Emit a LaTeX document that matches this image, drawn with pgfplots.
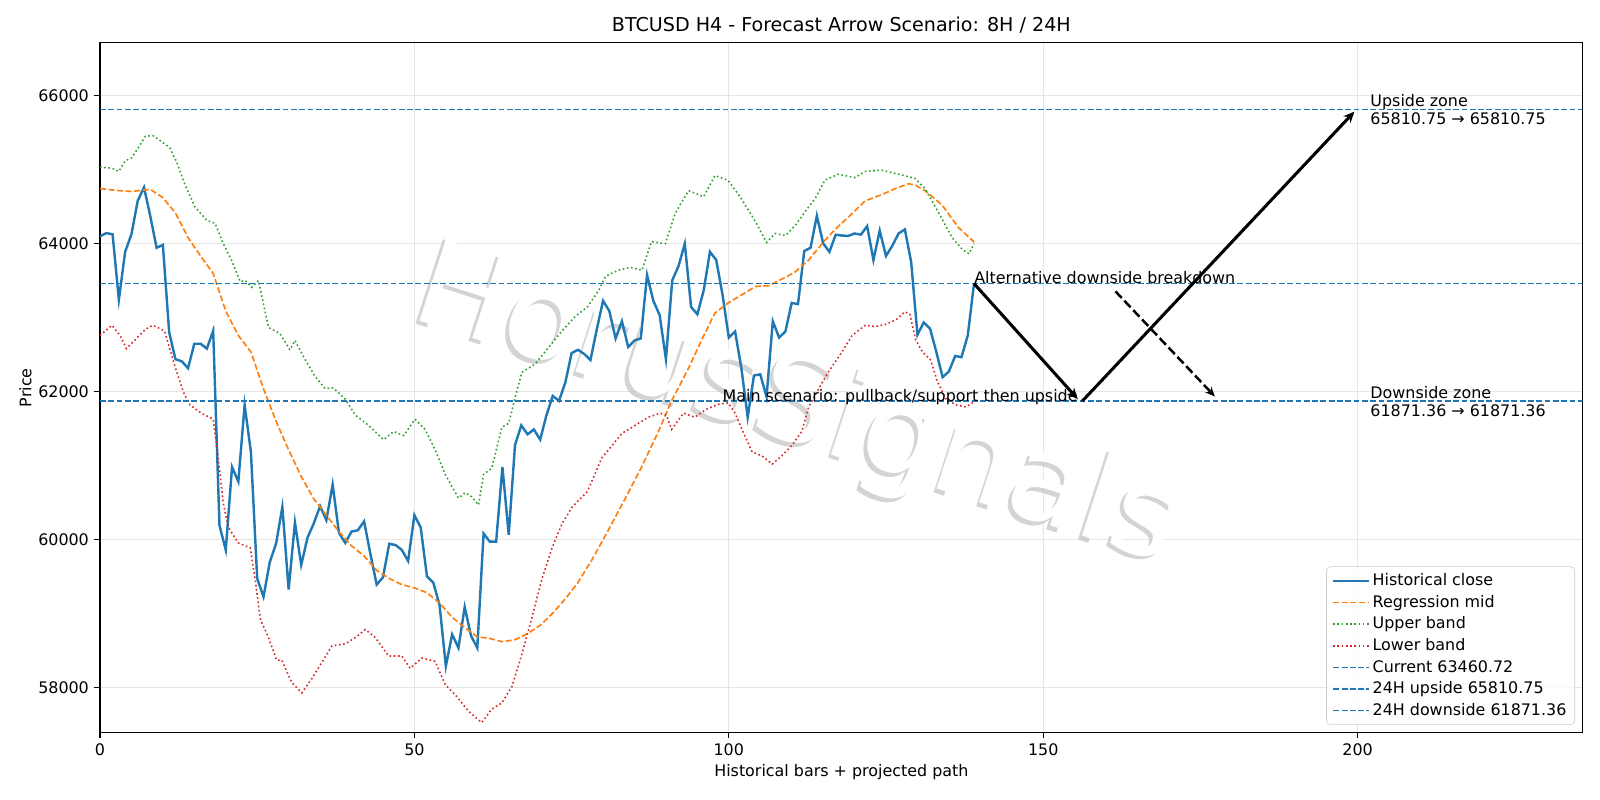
\documentclass[border=0pt]{standalone}
\usepackage{fontspec}
\setmainfont{DejaVu Sans}
\usepackage{pgfplots}
\pgfplotsset{compat=1.18}
\usetikzlibrary{arrows.meta}
\definecolor{tabblue}{HTML}{1F77B4}
\definecolor{taborange}{HTML}{FF7F0E}
\definecolor{tabgreen}{HTML}{2CA02C}
\definecolor{tabred}{HTML}{D62728}
\definecolor{gridgray}{RGB}{230,230,230}
\definecolor{legedge}{RGB}{204,204,204}
\newcommand{\fs}{\fontsize{11.5}{13.8}\selectfont}
\begin{document}
\fs
\begin{tikzpicture}
\path[use as bounding box] (0,0) rectangle (16in,8in);
\begin{axis}[
  at={(1in,0.673in)}, anchor=south west,
  scale only axis, width=14.827in, height=6.9in,
  xmin=0, xmax=235.8, ymin=57392, ymax=66716,
  xtick={0,50,100,150,200}, ytick={58000,60000,62000,64000,66000},
  scaled y ticks=false,
  grid=major, grid style={color=gridgray, line width=0.9pt},
  tick align=outside, xtick pos=bottom, ytick pos=left,
  major tick length=4pt, tick style={black, line width=0.92pt},
  axis line style={line width=0.92pt},
  /pgf/number format/.cd, 1000 sep={}, assume math mode=true, /pgfplots/.cd,
  tick label style={font=\fs},
  title={BTCUSD H4 - Forecast Arrow Scenario: 8H / 24H},
  title style={at={(axis description cs:0.5,1.0249)}, anchor=center, yshift=-6pt, font=\fontsize{13.8}{16}\selectfont},
  xlabel={Historical bars + projected path},
  xlabel style={at={(axis description cs:0.5,-0.0565)}, anchor=center, font=\fs},
  ylabel={Price},
  ylabel style={at={(axis description cs:-0.0502,0.5)}, anchor=center, font=\fs},
  legend style={at={(axis description cs:0.9948,0.0112)}, anchor=south east,
    draw=legedge, rounded corners=3pt, fill=white, fill opacity=0.8, text opacity=1,
    font=\fs, inner xsep=4pt, inner ysep=3pt, row sep=1.2pt},
  legend cell align=left,
  legend image code/.code={\draw[mark repeat=2,mark phase=2,#1] plot coordinates {(0cm,0cm) (0.45cm,0cm) (0.9cm,0cm)};},
]
% watermark
\node[xshift=-2.6pt, yshift=-2.6pt, rotate=-18, text=black!24, opacity=0.7, font=\fontsize{88}{100}\selectfont] at (axis cs:110.7,61780) {HorusSignals};
\node[rotate=-18, text=white, font=\fontsize{88}{100}\selectfont] at (axis cs:110.7,61780) {HorusSignals};

\addplot[tabblue, line width=1.75pt] coordinates {
(0,64099)(1,64143)(2,64127)(3,63244)(4,63890)(5,64127)(6,64580)(7,64761)(8,64370)(9,63945)
(10,63983)(11,62803)(12,62439)(13,62411)(14,62317)(15,62648)(16,62648)(17,62582)(18,62825)(19,60193)
(20,59862)(21,60982)(22,60784)(23,61821)(24,61186)(25,59476)(26,59228)(27,59697)(28,59945)(29,60442)
(30,59327)(31,60232)(32,59658)(33,60028)(34,60221)(35,60453)(36,60265)(37,60745)(38,60095)(39,59956)
(40,60110)(41,60127)(42,60248)(43,59807)(44,59393)(45,59492)(46,59945)(47,59928)(48,59862)(49,59713)
(50,60331)(51,60166)(52,59504)(53,59421)(54,59117)(55,58290)(56,58720)(57,58538)(58,59090)(59,58703)
(60,58538)(61,60083)(62,59973)(63,59973)(64,60982)(65,60066)(66,61280)(67,61545)(68,61424)(69,61490)
(70,61352)(71,61683)(72,61942)(73,61876)(74,62124)(75,62521)(76,62566)(77,62510)(78,62428)(79,62841)
(80,63228)(81,63090)(82,62720)(83,62952)(84,62604)(85,62692)(86,62720)(87,63575)(88,63228)(89,63035)
(90,62439)(91,63503)(92,63697)(93,64000)(94,63145)(95,63046)(96,63366)(97,63890)(98,63779)(99,63310)
(100,62731)(101,62814)(102,62317)(103,61655)(104,62218)(105,62235)(106,61931)(107,62952)(108,62731)(109,62814)
(110,63200)(111,63183)(112,63901)(113,63945)(114,64378)(115,64005)(116,63890)(117,64121)(118,64110)(119,64105)
(120,64138)(121,64121)(122,64237)(123,63779)(124,64176)(125,63834)(126,63972)(127,64138)(128,64193)(129,63752)
(130,62770)(131,62935)(132,62853)(133,62538)(134,62196)(135,62273)(136,62483)(137,62466)(138,62759)(139,63460.72)
};
\addlegendentry{Historical close}

\addplot[taborange, line width=1.2pt, dash pattern=on 4.3pt off 1.9pt] coordinates {
(0,64745)(3,64717)(5,64706)(8,64734)(10,64623)(12,64414)(14,64083)(16,63834)(18,63597)(20,63090)
(22,62759)(24,62538)(26,62041)(28,61600)(30,61214)(32,60855)(34,60552)(36,60331)(38,60110)(40,59917)
(42,59780)(44,59586)(46,59476)(48,59393)(50,59349)(52,59283)(54,59145)(56,58952)(58,58814)(60,58687)
(62,58665)(64,58621)(66,58648)(68,58731)(70,58842)(72,59007)(74,59200)(76,59420)(78.2,59724)(80.9,60138)
(83.5,60552)(86.2,60993)(88.8,61462)(90.9,61876)(93.6,62318)(95.7,62703)(97.8,63062)(99.9,63200)(102.1,63310)
(104.2,63421)(106.3,63432)(108.4,63520)(110.5,63614)(112.7,63779)(115.1,64028)(117,64200)(119,64359)
(121.7,64579)(124.3,64662)(126.5,64745)(128.6,64811)(129.7,64789)(131.2,64717)(133.9,64524)(136.5,64221)
(138.6,64055)(139,64020)
};
\addlegendentry{Regression mid}

\addplot[tabgreen, line width=1.15pt, dash pattern=on 1.15pt off 1.9pt] coordinates {
(0,65032)(1.9,65021)(3,64977)(4,65120)(5,65158)(6.1,65296)(7.2,65450)(8.4,65461)(9.8,65379)(11.1,65296)
(12.2,65103)(13.5,64800)(15.1,64497)(17,64314)(18.3,64276)(19.6,64000)(20.9,63779)(22.3,63487)(23.1,63503)
(24.1,63410)(25.2,63503)(26.8,62869)(28.6,62786)(30.2,62566)(31,62693)(32.3,62483)(34.2,62207)(35.8,62041)
(37.1,62052)(39,61900)(40.6,61683)(42.7,61545)(45.1,61352)(46.7,61462)(48.3,61407)(50.1,61628)(51.7,61490)
(53.3,61214)(54.9,60883)(57,60563)(58.1,60635)(59.1,60580)(60.2,60469)(61,60883)(62.3,60965)(63.9,61517)
(65,61573)(66.3,62014)(67.1,62262)(69.2,62373)(71.3,62593)(73.4,62814)(75.5,63010)(77.5,63145)(79.3,63366)
(80.4,63559)(82.4,63641)(84.3,63680)(86.2,63641)(87.7,64028)(89.9,64000)(91.5,64414)(93.6,64717)(96,64634)
(97.8,64921)(99.9,64855)(102,64607)(104.2,64303)(106,64017)(107.4,64138)(109,64110)(110.6,64248)(112.2,64441)
(113.8,64620)(115.3,64860)(117.4,64938)(120.1,64894)(121.7,64977)(124.3,64993)(127,64938)(129.6,64883)
(131.2,64745)(133.4,64414)(135.5,64083)(137.2,63917)(138.2,63862)(139,64000)
};
\addlegendentry{Upper band}

\addplot[tabred, line width=1.15pt, dash pattern=on 1.15pt off 1.9pt] coordinates {
(0,62759)(1.9,62897)(3.2,62759)(4.2,62582)(5.6,62703)(7.2,62841)(8.4,62897)(9.8,62841)(10.3,62814)(12,62317)
(13.3,61986)(14.3,61821)(16.1,61710)(18,61628)(18.8,61104)(19.6,60497)(20.4,60166)(22,59956)(23.9,59890)
(24.7,59448)(25.5,58924)(26.8,58676)(28.1,58372)(28.9,58372)(30.5,58069)(32.1,57931)(33.7,58124)(35.3,58345)
(36.9,58566)(39,58593)(40.6,58676)(42.2,58786)(43.8,58676)(45.9,58428)(48,58428)(49.3,58262)(51.2,58400)
(53.3,58356)(54.9,58041)(56.5,57904)(58.6,57683)(60.7,57529)(62.3,57711)(63.9,57793)(65.5,58014)(67.1,58455)
(68.7,58952)(70.3,59476)(71.9,59890)(73.5,60221)(75.1,60442)(77.5,60650)(79.8,61104)(81.4,61269)(83,61435)
(85.1,61545)(87.2,61655)(89.1,61710)(90.1,61683)(90.9,61490)(92.8,61710)(94.6,61655)(96.5,61766)(98.4,61832)
(99.9,61848)(101,61710)(102.1,61490)(103.7,61186)(105.3,61131)(106.9,61021)(108.4,61131)(110,61269)
(111.6,61462)(112.7,61793)(114.3,62041)(115.8,62262)(118,62538)(119.6,62759)(121.7,62897)(123.3,62880)
(125.1,62913)(126.7,62979)(128,63079)(128.8,63046)(129.7,62703)(130.8,62538)(132.1,62428)(133.1,62152)
(134.5,61904)(136.1,61821)(137.7,61793)(139,61865)
};
\addlegendentry{Lower band}

\addplot[tabblue, line width=1.15pt, dash pattern=on 4.2pt off 1.8pt] coordinates {(0,63460.72)(235.8,63460.72)};
\addlegendentry{Current 63460.72}
\addplot[tabblue, line width=1.15pt, dash pattern=on 4.2pt off 1.8pt] coordinates {(0,65810.75)(235.8,65810.75)};
\addlegendentry{24H upside 65810.75}
\addplot[tabblue, line width=1.15pt, dash pattern=on 4.2pt off 1.8pt] coordinates {(0,61871.36)(235.8,61871.36)};
\addlegendentry{24H downside 61871.36}

% scenario arrows
\addplot[forget plot, black, line width=2.2pt, -{Stealth[length=8pt,width=7pt]}] coordinates {(139,63460.72)(155.5,61900)};
\addplot[forget plot, black, line width=2.2pt, -{Stealth[length=8pt,width=7pt]}] coordinates {(156.2,61871.36)(199.5,65785)};
\addplot[forget plot, black, line width=1.8pt, dash pattern=on 6.5pt off 2.8pt, -{Stealth[length=7pt,width=6pt]}] coordinates {(161.5,63355)(177.3,61935)};

\node[anchor=base west, inner sep=0pt] at (axis cs:139,63460.72) {Alternative downside breakdown};
\node[anchor=base east, inner sep=0pt] at (axis cs:155.5,61871.36) {Main scenario: pullback/support then upside};
\node[anchor=west, align=left, inner sep=0pt, font=\fontsize{11.5}{13.2}\selectfont] at (axis cs:202,65810.75) {Upside zone\\65810.75 → 65810.75};
\node[anchor=west, align=left, inner sep=0pt, font=\fontsize{11.5}{13.2}\selectfont] at (axis cs:202,61871.36) {Downside zone\\61871.36 → 61871.36};
\end{axis}
\end{tikzpicture}
\end{document}
